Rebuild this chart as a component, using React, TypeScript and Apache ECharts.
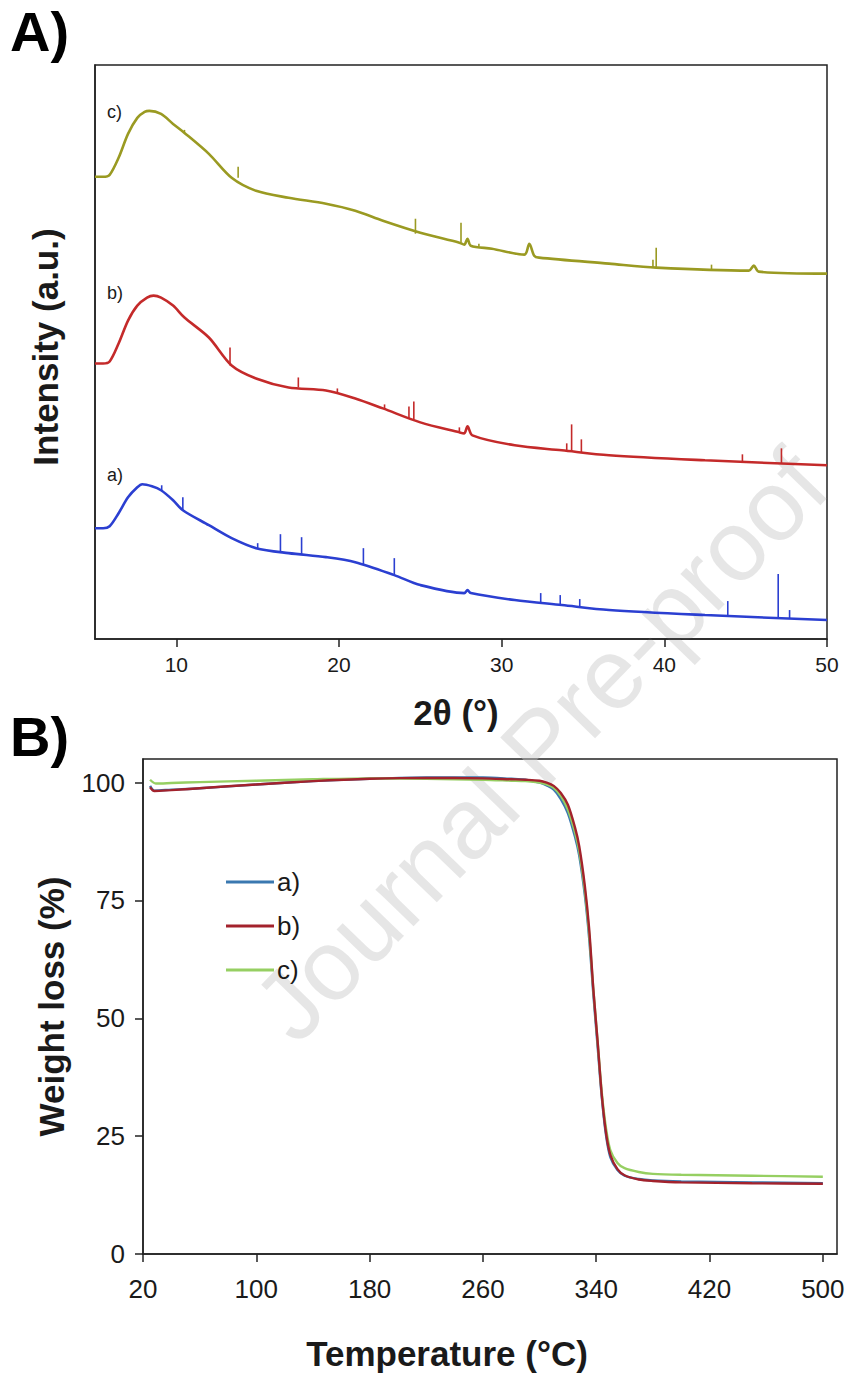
import React, { useEffect, useRef } from "react";
import * as echarts from "echarts";

// ---------- Panel A: XRD ----------
const xrdTicks = [10, 20, 30, 40, 50];
// [2theta, intensity (a.u.)]
const xrdA: [number, number][] = [
  [5.0, 111], [5.5, 111], [5.9, 113], [6.45, 126], [7.03, 142], [7.6, 152], [7.9, 155], [8.5, 153],
  [9.06, 149], [9.8, 139], [10.4, 129], [12.0, 114], [13.4, 101], [14.9, 91], [16.9, 86], [19.2, 82],
  [21.0, 77], [23.4, 64], [25.0, 54], [27.7, 46], [27.9, 49], [28.1, 46], [30.8, 39], [33.7, 34],
  [36.6, 29], [42.5, 24], [50.0, 19],
];
const xrdB: [number, number][] = [
  [5.0, 276], [5.5, 276], [5.9, 278], [6.45, 296], [7.03, 319], [7.6, 334], [8.2, 342], [8.6, 344],
  [9.06, 342], [9.8, 334], [10.5, 322], [12.0, 302], [13.4, 274], [14.9, 261], [16.9, 252], [19.2, 249],
  [21.0, 241], [22.7, 231], [25.0, 217], [27.4, 207], [27.7, 206], [27.9, 213], [28.2, 204], [30.8, 194],
  [33.7, 189], [36.6, 184], [42.5, 179], [50.0, 174],
];
const xrdC: [number, number][] = [
  [5.0, 463], [5.5, 463], [5.9, 465], [6.45, 482], [7.03, 506], [7.6, 522], [8.05, 528], [8.34, 529],
  [9.06, 526], [9.8, 516], [10.5, 507], [12.0, 486], [13.4, 462], [14.9, 449], [16.9, 442], [19.2, 436],
  [21.0, 429], [22.7, 419], [25.0, 407], [27.4, 397], [27.7, 395], [27.9, 401], [28.1, 394], [29.4, 391],
  [31.4, 385], [31.7, 396], [32.0, 384], [32.3, 382], [36.6, 376], [39.5, 372], [45.2, 369], [45.5, 374],
  [45.8, 368], [50.0, 366],
];
// sharp reflections: [2theta, base, top]
const spikesA: [number, number, number][] = [
  [9.1, 149, 154], [10.4, 129, 142], [15.0, 91, 96], [16.4, 87, 105], [17.7, 85, 102], [21.5, 75, 91],
  [23.4, 64, 81], [32.4, 37, 46], [33.6, 34, 44], [34.8, 33, 40], [43.9, 24, 38], [47.0, 22, 65],
  [47.7, 21, 29],
];
const spikesB: [number, number, number][] = [
  [13.3, 274, 292], [17.5, 252, 262], [19.9, 247, 251], [22.8, 231, 235], [24.3, 221, 233],
  [24.6, 220, 238], [27.4, 207, 212], [34.0, 188, 196], [34.3, 188, 215], [34.9, 187, 200],
  [44.8, 178, 185], [47.2, 176, 191],
];
const spikesC: [number, number, number][] = [
  [10.5, 507, 510], [13.8, 462, 473], [24.7, 406, 421], [27.5, 397, 417], [28.6, 393, 396],
  [39.3, 372, 380], [39.5, 372, 392], [42.9, 370, 375],
];

// ---------- Panel B: TGA ----------
const tgaTicksX = [20, 100, 180, 260, 340, 420, 500];
const tgaTicksY = [0, 25, 50, 75, 100];
// [temperature °C, weight %]
const tgaA: [number, number][] = [
  [25, 99.3], [28, 98.3], [40, 98.5], [60, 98.8], [100, 99.6], [140, 100.3], [180, 100.8], [220, 101.1],
  [260, 101.1], [280, 100.8], [290, 100.6], [300, 100.0], [305, 99.4], [310, 98.5], [315, 96.5],
  [320, 93.5], [325, 88.5], [328, 84.5], [332, 76], [335, 67], [338, 55], [341, 44], [344, 33],
  [347, 25], [350, 20.5], [355, 17.8], [360, 16.6], [370, 15.9], [380, 15.6], [400, 15.4], [450, 15.2],
  [500, 15.0],
];
const tgaB: [number, number][] = [
  [25, 99.0], [28, 98.2], [40, 98.4], [60, 98.8], [100, 99.6], [140, 100.3], [180, 100.8], [220, 101.0],
  [260, 100.9], [280, 100.7], [290, 100.6], [300, 100.4], [305, 100.0], [310, 99.3], [315, 97.8],
  [320, 95.3], [325, 90.5], [328, 86.5], [332, 78], [335, 69], [338, 56], [341, 45], [344, 33.5],
  [347, 25.5], [350, 21], [355, 18], [360, 16.7], [370, 15.8], [380, 15.5], [400, 15.2], [450, 15.0],
  [500, 14.9],
];
const tgaC: [number, number][] = [
  [25, 100.6], [29, 99.8], [40, 99.9], [60, 100.1], [100, 100.4], [140, 100.7], [180, 100.9], [220, 100.8],
  [260, 100.6], [280, 100.4], [290, 100.3], [300, 100.0], [305, 99.6], [310, 98.9], [315, 97.2],
  [320, 94.3], [325, 89.5], [328, 85.5], [332, 77], [335, 68], [338, 56], [341, 45], [344, 34],
  [347, 26.5], [350, 22], [355, 19.3], [360, 18.2], [370, 17.4], [380, 17.0], [400, 16.8], [450, 16.6],
  [500, 16.4],
];

const SANS = "'Liberation Sans', Arial, Helvetica, sans-serif";
const INK = "#1a1a1a";

const spikeSeries = (name: string, data: [number, number, number][], color: string) => ({
  type: "custom",
  name,
  xAxisIndex: 0,
  yAxisIndex: 0,
  z: 4,
  data,
  encode: { x: 0, y: [1, 2] },
  renderItem: (_params: any, api: any) => {
    const p0 = api.coord([api.value(0), api.value(1)]);
    const p1 = api.coord([api.value(0), api.value(2)]);
    return {
      type: "line",
      shape: { x1: p0[0], y1: p0[1], x2: p1[0], y2: p1[1] },
      style: { stroke: color, lineWidth: 1.6 },
    };
  },
});

export default function App() {
  const ref = useRef<HTMLDivElement>(null);
  useEffect(() => {
    if (!ref.current) return;
    const chart = echarts.init(ref.current, undefined, { renderer: "svg" });
    const colA = "#2b3fd1";
    const colB = "#c42a2a";
    const colC = "#9a9a22";
    const tA = "#3a78b0";
    const tB = "#a3222c";
    const tC = "#96cf62";
    const option: any = {
      animation: false,
      backgroundColor: "#ffffff",
      grid: [
        { left: 95, top: 65, width: 732, height: 574, show: true, borderColor: "#222", borderWidth: 1.5, backgroundColor: "transparent" },
        { left: 143, top: 759, width: 694, height: 495, show: true, borderColor: "#222", borderWidth: 1.5, backgroundColor: "transparent" },
      ],
      xAxis: [
        {
          gridIndex: 0, type: "value", min: 5, max: 50,
          name: "2θ (°)", nameLocation: "middle", nameGap: 56,
          nameTextStyle: { fontFamily: SANS, fontSize: 35, fontWeight: "bold", color: INK, padding: [0, 10, 0, 0] },
          axisLine: { show: true, lineStyle: { color: "#222", width: 1.5 } },
          axisTick: { show: true, inside: false, length: 8, customValues: xrdTicks, lineStyle: { color: "#222", width: 1.5 } },
          axisLabel: { show: true, customValues: xrdTicks, margin: 15, fontFamily: SANS, fontSize: 21, color: INK },
          splitLine: { show: false },
        },
        {
          gridIndex: 1, type: "value", min: 20, max: 510,
          name: "Temperature (°C)", nameLocation: "middle", nameGap: 82,
          nameTextStyle: { fontFamily: SANS, fontSize: 35, fontWeight: "bold", color: INK, padding: [0, 86, 0, 0] },
          axisLine: { show: true, lineStyle: { color: "#222", width: 1.5 } },
          axisTick: { show: true, inside: false, length: 8, customValues: tgaTicksX, lineStyle: { color: "#222", width: 1.5 } },
          axisLabel: { show: true, customValues: tgaTicksX, margin: 22, fontFamily: SANS, fontSize: 26, color: INK },
          splitLine: { show: false },
        },
      ],
      yAxis: [
        {
          gridIndex: 0, type: "value", min: 0, max: 575,
          name: "Intensity (a.u.)", nameLocation: "middle", nameGap: 32, nameRotate: 90,
          nameTextStyle: { fontFamily: SANS, fontSize: 35, fontWeight: "bold", color: INK, padding: [0, 0, 0, 10] },
          axisLine: { show: true, lineStyle: { color: "#222", width: 1.5 } },
          axisTick: { show: false },
          axisLabel: { show: false },
          splitLine: { show: false },
        },
        {
          gridIndex: 1, type: "value", min: 0, max: 105,
          name: "Weight loss (%)", nameLocation: "middle", nameGap: 74, nameRotate: 90,
          nameTextStyle: { fontFamily: SANS, fontSize: 35, fontWeight: "bold", color: INK },
          axisLine: { show: true, lineStyle: { color: "#222", width: 1.5 } },
          axisTick: { show: true, inside: false, length: 8, customValues: tgaTicksY, lineStyle: { color: "#222", width: 1.5 } },
          axisLabel: { show: true, customValues: tgaTicksY, margin: 18, fontFamily: SANS, fontSize: 26, color: INK },
          splitLine: { show: false },
        },
      ],
      legend: {
        data: ["a)", "b)", "c)"],
        orient: "vertical",
        left: 221,
        top: 864,
        itemWidth: 48,
        itemHeight: 3,
        itemGap: 18,
        textStyle: { fontFamily: SANS, fontSize: 26, color: INK, padding: [0, 0, 0, -2] },
        icon: "rect",
      },
      graphic: [
        {
          type: "text", x: 540, y: 745, z: 0, rotation: (46 * Math.PI) / 180,
          style: { text: "Journal Pre-proof", fontFamily: SANS, fontSize: 100, fill: "rgba(200,200,200,0.45)", align: "center", verticalAlign: "middle" },
        },
        { type: "text", x: 10, y: 3, z: 10, style: { text: "A)", fontFamily: SANS, fontSize: 56, fontWeight: "bold", fill: "#000" } },
        { type: "text", x: 10, y: 708, z: 10, style: { text: "B)", fontFamily: SANS, fontSize: 56, fontWeight: "bold", fill: "#000" } },
        { type: "text", x: 107, y: 103, z: 10, style: { text: "c)", fontFamily: SANS, fontSize: 18, fill: INK } },
        { type: "text", x: 107, y: 284, z: 10, style: { text: "b)", fontFamily: SANS, fontSize: 18, fill: INK } },
        { type: "text", x: 107, y: 466, z: 10, style: { text: "a)", fontFamily: SANS, fontSize: 18, fill: INK } },
      ],
      series: [
        { type: "line", name: "XRD a", xAxisIndex: 0, yAxisIndex: 0, data: xrdA, symbol: "none", smooth: 0.3, z: 3, lineStyle: { color: colA, width: 2.6 } },
        { type: "line", name: "XRD b", xAxisIndex: 0, yAxisIndex: 0, data: xrdB, symbol: "none", smooth: 0.3, z: 3, lineStyle: { color: colB, width: 2.6 } },
        { type: "line", name: "XRD c", xAxisIndex: 0, yAxisIndex: 0, data: xrdC, symbol: "none", smooth: 0.3, z: 3, lineStyle: { color: colC, width: 2.6 } },
        spikeSeries("XRD a peaks", spikesA, colA),
        spikeSeries("XRD b peaks", spikesB, colB),
        spikeSeries("XRD c peaks", spikesC, colC),
        { type: "line", name: "a)", xAxisIndex: 1, yAxisIndex: 1, data: tgaA, symbol: "none", smooth: 0.3, z: 3, color: tA, lineStyle: { color: tA, width: 2.4 } },
        { type: "line", name: "b)", xAxisIndex: 1, yAxisIndex: 1, data: tgaB, symbol: "none", smooth: 0.3, z: 4, color: tB, lineStyle: { color: tB, width: 2.4 } },
        { type: "line", name: "c)", xAxisIndex: 1, yAxisIndex: 1, data: tgaC, symbol: "none", smooth: 0.3, z: 3, color: tC, lineStyle: { color: tC, width: 2.4 } },
      ],
    };
    chart.setOption(option);
    return () => chart.dispose();
  }, []);
  return <div ref={ref} style={{ position: "absolute", left: 0, top: 0, width: 848, height: 1378 }} />;
}
